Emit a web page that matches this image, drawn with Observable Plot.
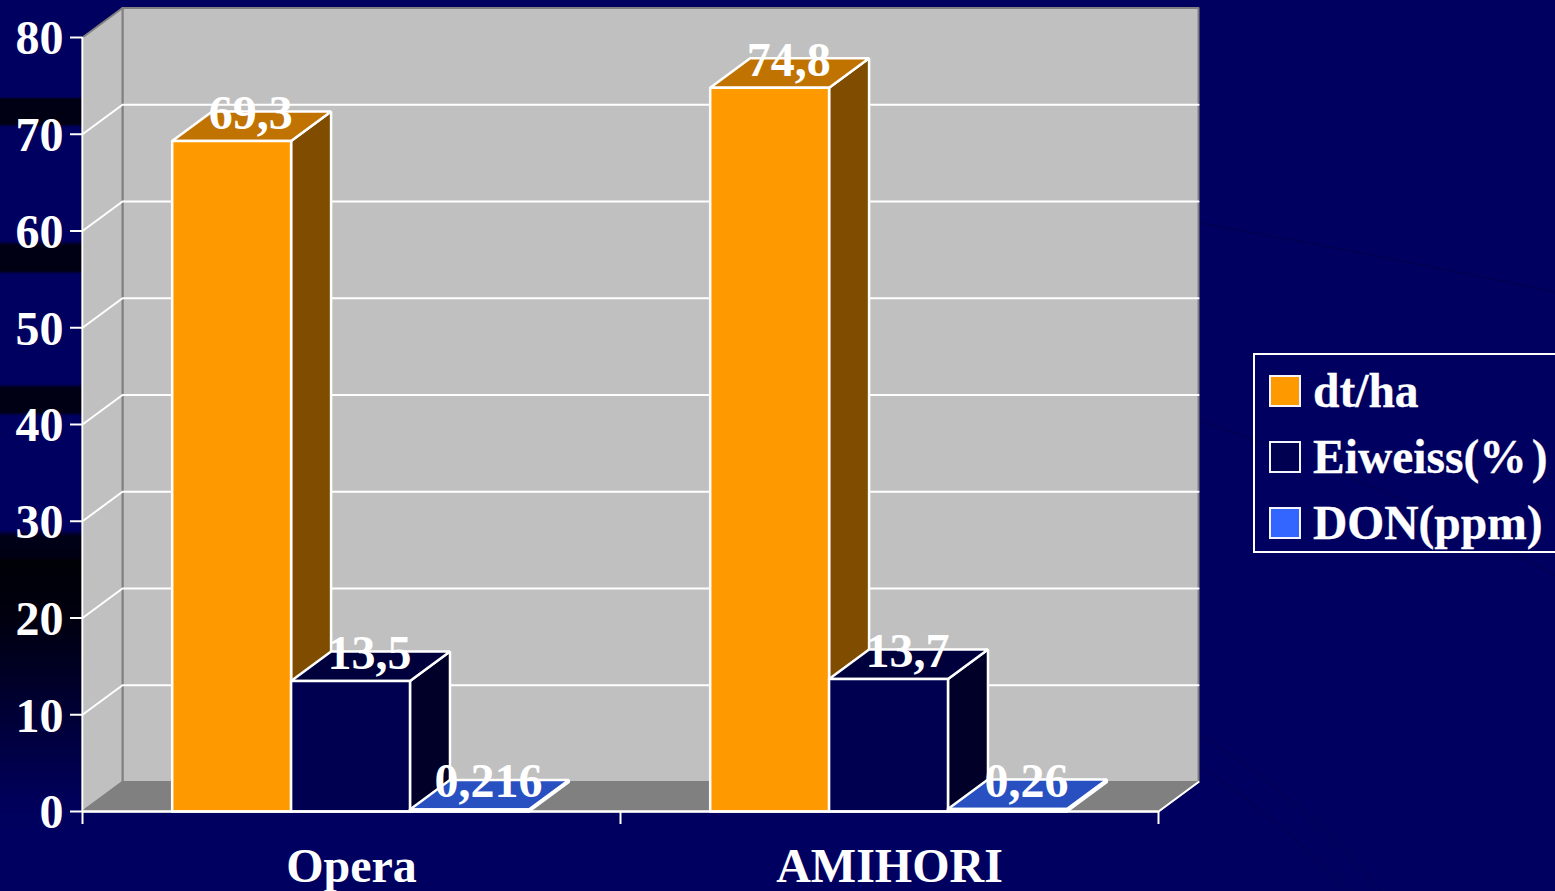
<!DOCTYPE html>
<html>
<head>
<meta charset="utf-8">
<script src="https://cdn.jsdelivr.net/npm/d3@7"></script>
<script src="https://cdn.jsdelivr.net/npm/@observablehq/plot@0.6"></script>
<style>
html,body{margin:0;padding:0;width:1555px;height:891px;overflow:hidden;background:#000060;}
#wrap{position:relative;width:1555px;height:891px;overflow:hidden;font-family:"Liberation Serif",serif;
 background:linear-gradient(180deg,#000060 0,#000060 97px,#000014 99px,#000014 124px,#000060 127px,#000060 241px,#000014 245px,#000014 271px,#000060 274px,#000060 384px,#000014 388px,#000014 412px,#000060 416px,#000060 530px,#000018 536px,#000014 556px,#000006 562px,#000010 620px,#000030 700px,#00005a 800px,#000060 830px) 0 0/84px 891px no-repeat,#000060;}
#legend{position:absolute;left:1253px;top:353px;width:320px;height:196px;border:2px solid #fff;color:#fff;font-weight:bold;font-size:47.5px;-webkit-text-stroke:.3px #fff;}
.row{position:absolute;left:58px;line-height:47px;white-space:nowrap;}
.sw{position:absolute;left:14px;width:28px;height:28px;border:2px solid #f4f4ff;box-sizing:content-box;margin:-0.5px;}
#texture{position:absolute;left:0;top:0;}
svg{position:absolute;left:0;top:0;overflow:visible;}
svg text{-webkit-text-stroke:.3px #fff;}
</style>
</head>
<body>
<div id="wrap">
<svg id="texture" width="1555" height="891" fill="none" stroke="#00004c" stroke-width="1">
<path d="M1199 223 Q1380 255 1555 292"/>
<path d="M1199 420 Q1400 490 1555 575"/>
<path d="M1199 735 Q1300 795 1380 891"/>
<path d="M1199 765 Q1280 820 1350 891"/>
</svg>
</div>
<script>
const categories = ["Opera", "AMIHORI"];
const seriesNames = ["dt/ha", "Eiweiss(%)", "DON(ppm)"];
const dtHa = [69.3, 74.8];
const eiweiss = [13.5, 13.7];
const don = [0.216, 0.26];
const yTicks = [0, 10, 20, 30, 40, 50, 60, 70, 80];
const frontColors = ["#ff9900", "#000050", "#3366ff"];
const topColors = ["#c07300", "#00003c", "#2850c0"];
const sideColors = ["#804d00", "#000028", "#1a3380"];

const DX = 40 / 538, DY = 29.5 / 9.675, BW = 0.221, GAP = 0.1667;
const wall = "#c0c0c0", floor = "#808080", edge = "#808080";
const yMax = 80;

const values = [dtHa, eiweiss, don];
const bars = [];
categories.forEach((c, i) => values.forEach((vals, s) => {
  const x0 = i + GAP + s * BW;
  bars.push({c, s, x0, x1: x0 + BW, v: vals[i], label: String(vals[i]).replace(".", ",")});
}));

function poly(id, fill, pts) {
  const closed = [...pts, pts[0]];
  return closed.map(([x, y]) => ({id, fill, x, y}));
}
const wallPolys = [
  ...poly("back", wall, [[DX, DY], [2 + DX, DY], [2 + DX, yMax + DY], [DX, yMax + DY]]),
  ...poly("left", wall, [[0, 0], [DX, DY], [DX, yMax + DY], [0, yMax]]),
  ...poly("floor", floor, [[0, 0], [2, 0], [2 + DX, DY], [DX, DY]])
];
const barPolys = bars.flatMap((b, i) => [
  ...poly("side" + i, sideColors[b.s], [[b.x1, 0], [b.x1 + DX, DY], [b.x1 + DX, b.v + DY], [b.x1, b.v]]),
  ...poly("top" + i, topColors[b.s], [[b.x0, b.v], [b.x1, b.v], [b.x1 + DX, b.v + DY], [b.x0 + DX, b.v + DY]]),
  ...poly("front" + i, frontColors[b.s], [[b.x0, 0], [b.x1, 0], [b.x1, b.v], [b.x0, b.v]])
]);
const gridTicks = yTicks.filter(t => t > 0 && t < yMax);
const gridLines = gridTicks.flatMap(t => [
  {id: t, x: 0, y: t}, {id: t, x: DX, y: t + DY}, {id: t, x: 2 + DX, y: t + DY}
]);

const chart = Plot.plot({
  width: 1555, height: 891,
  marginLeft: 82, marginRight: 397, marginTop: 37, marginBottom: 80,
  x: {domain: [0, 2], axis: null},
  y: {domain: [0, yMax], axis: null},
  style: {background: "transparent", fontFamily: '"Liberation Serif", serif', overflow: "visible"},
  marks: [
    Plot.line(wallPolys, {x: "x", y: "y", z: "id", fill: "fill", stroke: edge, strokeWidth: 2, curve: "linear"}),
    Plot.line(gridLines, {x: "x", y: "y", z: "id", stroke: "white", strokeWidth: 2, curve: "linear"}),
    Plot.line(barPolys, {x: "x", y: "y", z: "id", fill: "fill", stroke: "white", strokeWidth: 2.5, curve: "linear", strokeLinejoin: "miter"}),
    Plot.ruleY([0], {stroke: "white", strokeWidth: 2.5}),
    Plot.ruleX([0], {stroke: "white", strokeWidth: 2}),
    Plot.line([{x: 2, y: 0}, {x: 2 + DX, y: DY}], {x: "x", y: "y", stroke: "white", strokeWidth: 2}),
    Plot.text(bars, {
      x: d => (d.x0 + d.x1 + DX) / 2, y: "v", text: "label",
      dy: -12, dx: -1, lineAnchor: "bottom", fill: "white", fontSize: 48, fontWeight: "bold"
    }),
    Plot.axisY({
      ticks: yTicks, tickSize: 12, tickFormat: () => "", stroke: "white", strokeWidth: 2, label: null
    }),
    Plot.axisY({
      ticks: yTicks, tickSize: 0, tickPadding: 19, dy: 1.5,
      fill: "white", fontSize: 48, fontWeight: "bold", label: null
    }),
    Plot.axisX({
      ticks: [0, 1, 2], tickSize: 13, tickFormat: () => "", stroke: "white", strokeWidth: 2, label: null
    }),
    Plot.axisX({
      ticks: [0.5, 1.5], tickSize: 0, tickPadding: 36, tickFormat: d => categories[d - 0.5],
      fill: "white", fontSize: 48, fontWeight: "bold", label: null
    })
  ]
});
const wrap = document.getElementById("wrap");
wrap.appendChild(chart);

const legend = document.createElement("div");
legend.id = "legend";
const rowTop = [18, 84, 150];
seriesNames.forEach((name, i) => {
  const sw = document.createElement("div");
  sw.className = "sw";
  sw.style.top = (rowTop[i] + 2) + "px";
  sw.style.background = frontColors[i];
  legend.appendChild(sw);
  const r = document.createElement("div");
  r.className = "row";
  r.style.top = (rowTop[i] - 5) + "px";
  const pct = name.indexOf("%");
  if (pct >= 0) {
    r.append(name.slice(0, pct));
    const s = document.createElement("span");
    s.style.letterSpacing = "5px";
    s.textContent = "%";
    r.append(s, name.slice(pct + 1));
  } else {
    r.textContent = name;
  }
  legend.appendChild(r);
});
wrap.appendChild(legend);
</script>
</body>
</html>
